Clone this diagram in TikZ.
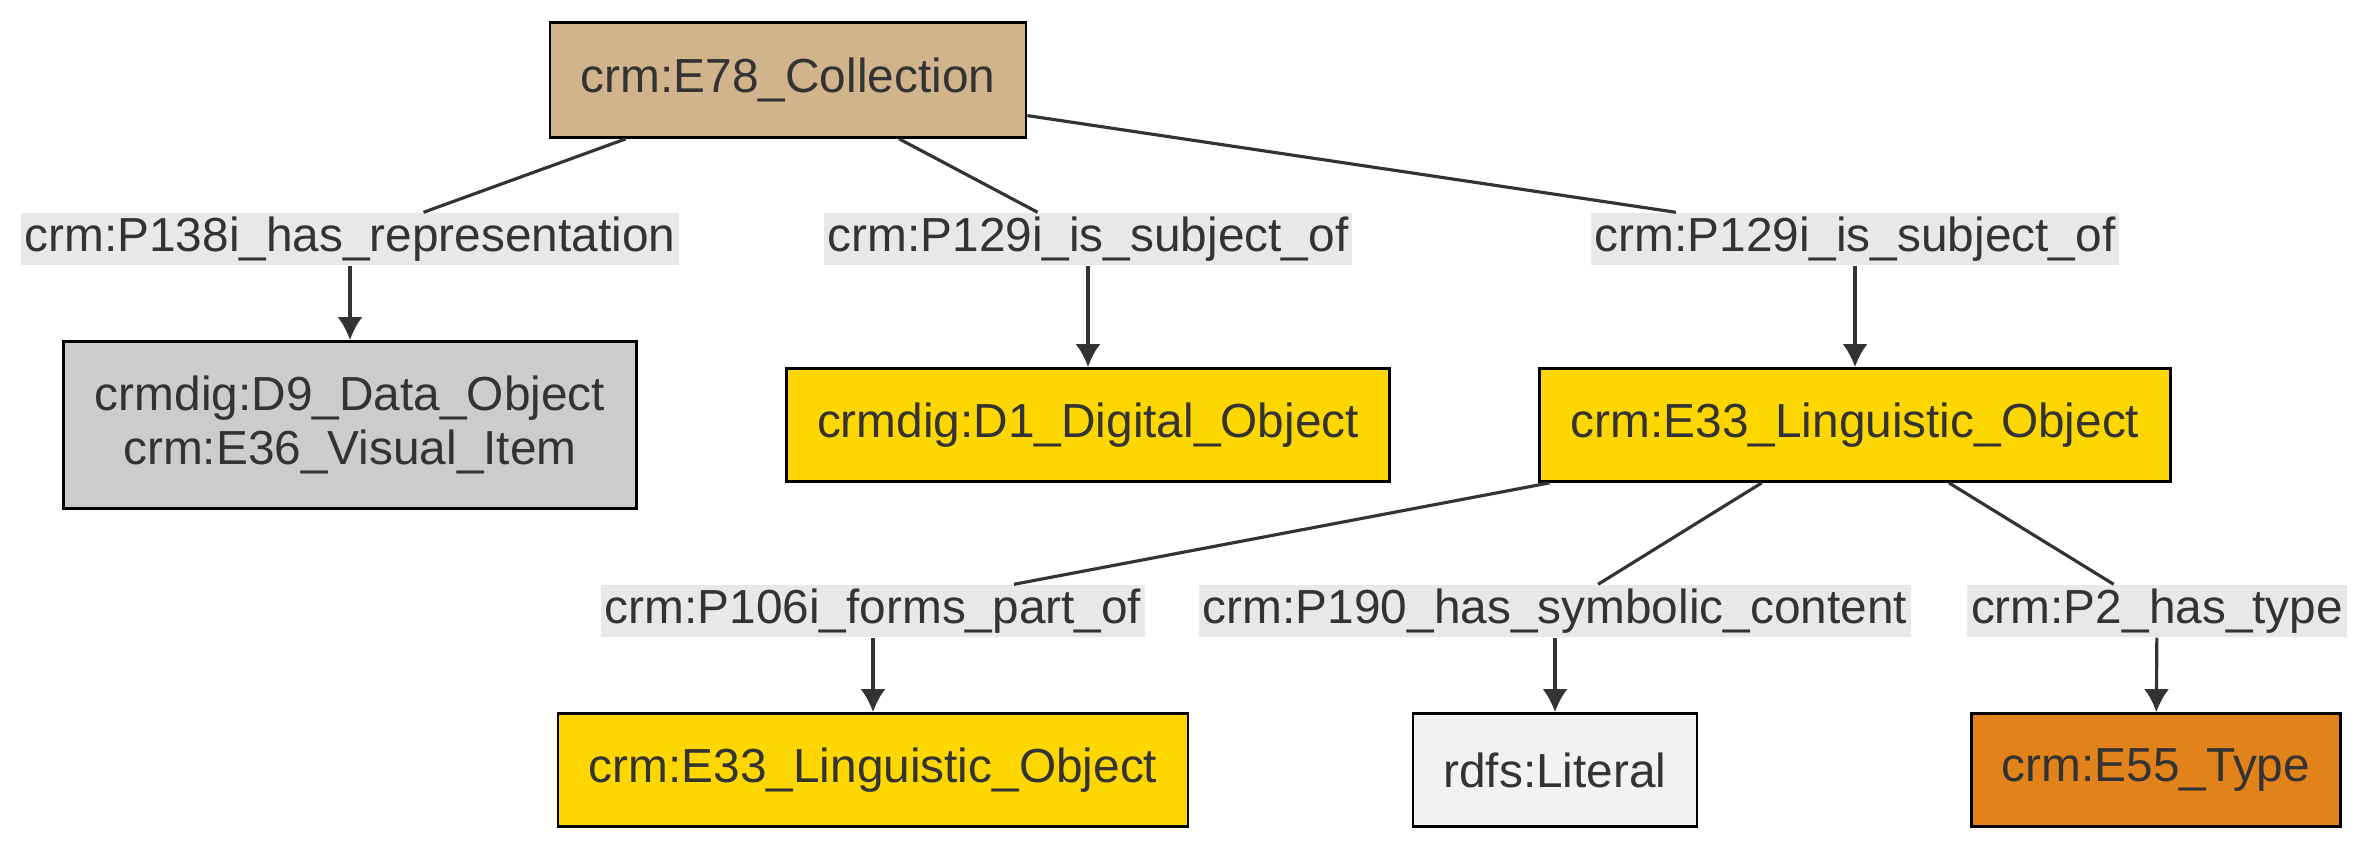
\documentclass[tikz,border=0pt]{standalone}
\usepackage{fontspec}
\setmainfont{Liberation Sans}
\usetikzlibrary{arrows.meta, positioning}

\definecolor{ink}{HTML}{333333}
\definecolor{tanbox}{HTML}{D2B48C}
\definecolor{greybox}{HTML}{CCCCCC}
\definecolor{goldbox}{HTML}{FFD700}
\definecolor{literalbox}{HTML}{F2F2F2}
\definecolor{typebox}{HTML}{E1821A}
\definecolor{propbg}{HTML}{E8E8E8}

\begin{document}
\begin{tikzpicture}[
  font=\fontsize{13.6}{15.4}\selectfont, text=ink,
  > = {Latex[length=2.3mm,width=2.5mm]},
  cls/.style = {rectangle, draw=black, line width=0.8pt, minimum height=1.13cm, align=center},
  prop/.style = {rectangle, fill=propbg, inner xsep=0.4mm, inner ysep=0pt, minimum height=0.52cm},
  link/.style = {draw=ink, line width=0.9pt}
  ]
  \useasboundingbox (0,0) rectangle (23.70,-8.52);
  % classes
  \node[cls, fill=tanbox, minimum width=4.76cm, minimum height=1.15cm] (coll) at (7.88,-0.80) {crm:E78\_Collection};
  \node[cls, fill=greybox, minimum width=5.73cm, minimum height=1.67cm] (dataobj) at (3.50,-4.25) {crmdig:D9\_Data\_Object\\crm:E36\_Visual\_Item};
  \node[cls, fill=goldbox, minimum width=6.03cm] (digobj) at (10.88,-4.25) {crmdig:D1\_Digital\_Object};
  \node[cls, fill=goldbox, minimum width=6.31cm] (lingobj) at (18.55,-4.25) {crm:E33\_Linguistic\_Object};
  \node[cls, fill=goldbox, minimum width=6.30cm] (partobj) at (8.73,-7.70) {crm:E33\_Linguistic\_Object};
  \node[cls, fill=literalbox, minimum width=2.84cm] (literal) at (15.55,-7.70) {rdfs:Literal};
  \node[cls, fill=typebox, minimum width=3.69cm] (etype) at (21.56,-7.70) {crm:E55\_Type};
  % properties
  \node[prop] (p138) at (3.50,-2.39) {crm:P138i\_has\_representation};
  \node[prop] (p129a) at (10.88,-2.39) {crm:P129i\_is\_subject\_of};
  \node[prop] (p129b) at (18.55,-2.39) {crm:P129i\_is\_subject\_of};
  \node[prop] (p106) at (8.73,-6.11) {crm:P106i\_forms\_part\_of};
  \node[prop] (p190) at (15.55,-6.11) {crm:P190\_has\_symbolic\_content};
  \node[prop] (p2) at (21.57,-6.11) {crm:P2\_has\_type};
  % links
  \draw[link] (coll) -- (p138);
  \draw[link, ->] (p138) -- (dataobj);
  \draw[link] (coll) -- (p129a);
  \draw[link, ->] (p129a) -- (digobj);
  \draw[link] (coll) -- (p129b);
  \draw[link, ->] (p129b) -- (lingobj);
  \draw[link] (lingobj) -- (p106);
  \draw[link, ->] (p106) -- (partobj);
  \draw[link] (lingobj) -- (p190);
  \draw[link, ->] (p190) -- (literal);
  \draw[link] (lingobj) -- (p2);
  \draw[link, ->] (p2) -- (etype);
\end{tikzpicture}
\end{document}
